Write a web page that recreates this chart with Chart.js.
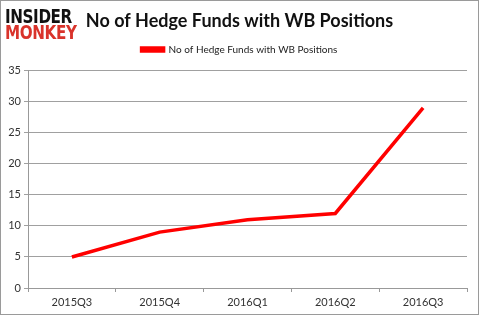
<!DOCTYPE html>
<html><head><meta charset="utf-8">
<script src="https://cdn.jsdelivr.net/npm/chart.js@4/dist/chart.umd.min.js"></script>
<style>
html,body{margin:0;padding:0;background:#fff;}
#wrap{position:relative;width:479px;height:315px;box-sizing:border-box;border:1px solid #9a9a9a;overflow:hidden;}
canvas{position:absolute;left:-1px;top:-1px;}
.logo{position:absolute;left:4px;font-family:"DejaVu Sans",sans-serif;font-weight:bold;line-height:1;letter-spacing:-0.5px;transform-origin:left top;white-space:nowrap;}
</style></head>
<body><div id="wrap">
<canvas id="c" width="479" height="315"></canvas>
<div class="logo" style="top:6px;font-size:19px;color:#111;transform:scaleX(0.8);">INSIDER</div>
<div class="logo" style="top:22px;font-size:19px;color:#d9332b;transform:scaleX(0.8);">MONKEY</div>
</div>
<script>
const categories = ["2015Q3","2015Q4","2016Q1","2016Q2","2016Q3"];
const hedgeFunds = [5, 9, 11, 12, 29];
const seriesName = "No of Hedge Funds with WB Positions";
const titleText = "No of Hedge Funds with WB Positions";

const layoutTweak = {
  id: 'layoutTweak',
  beforeLayout(chart) {
    const lg = chart.legend;
    if (lg && !lg._patched) {
      const f = lg.fit.bind(lg);
      lg.fit = function () { f(); this.height += 6; };
      lg._patched = true;
    }
  },
  afterLayout(chart) {
    if (chart.titleBlock) chart.titleBlock.right += 12;
    if (chart.legend) chart.legend.right += 12;
  }
};

new Chart(document.getElementById('c'), {
  type: 'line',
  data: { labels: categories, datasets: [{ label: seriesName, data: hedgeFunds,
    borderColor: '#ff0000', backgroundColor: '#ff0000', borderWidth: 3.5, pointRadius: 0, tension: 0 }]},
  plugins: [layoutTweak],
  options: {
    responsive: false, animation: false, devicePixelRatio: 1,
    layout: { padding: { left: 0, right: 12, top: 0, bottom: 0 } },
    plugins: {
      title: { display: true, text: titleText, color: '#111', font: { family: 'Lato', size: 18, weight: 'bold' }, padding: { top: 10, bottom: 10 } },
      legend: { labels: { boxWidth: 22, boxHeight: 3, color: '#222', font: { family: 'Lato', size: 10 }, padding: 3 } },
      tooltip: { enabled: false }
    },
    scales: {
      x: { offset: true,
        grid: { offset: true, drawOnChartArea: false, color: '#999', tickLength: 4 },
        border: { color: '#999' },
        ticks: { color: '#333', font: { family: 'Lato', size: 11 }, padding: 4, maxRotation: 0 },
        afterFit: s => { s.height = 27; } },
      y: { min: 0, max: 35,
        grid: { color: '#a0a0a0', tickLength: 4 },
        border: { color: '#999' },
        ticks: { stepSize: 5, color: '#333', font: { family: 'Lato', size: 11 }, padding: 3 },
        afterFit: s => { s.width = 28; } }
    }
  }
});
</script></body></html>
